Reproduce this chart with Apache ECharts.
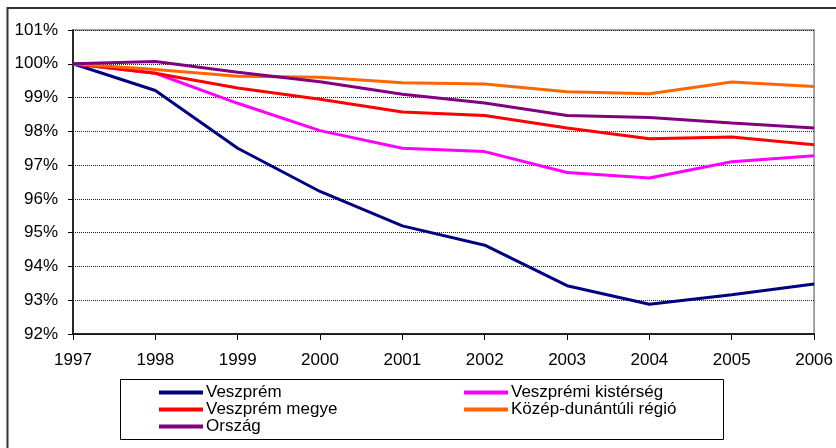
<!DOCTYPE html>
<html>
<head>
<meta charset="utf-8">
<script src="https://cdn.jsdelivr.net/npm/echarts@6/dist/echarts.min.js"></script>
<style>
  html, body { margin: 0; padding: 0; background: #fff; }
  #chart { width: 836px; height: 448px; }
</style>
</head>
<body>
<div id="chart"></div>
<script>
var years = ['1997', '1998', '1999', '2000', '2001', '2002', '2003', '2004', '2005', '2006'];
var seriesNames = ['Veszprém', 'Veszprémi kistérség', 'Veszprém megye', 'Közép-dunántúli régió', 'Ország'];
var seriesColors = ['#000080', '#FF00FF', '#FF0000', '#FF6600', '#800080'];

var veszprem =  [100, 99.21, 97.5, 96.22, 95.2, 94.63, 93.43, 92.88, 93.16, 93.48];
var kisterseg = [100, 99.72, 98.83, 98.02, 97.5, 97.4, 96.78, 96.62, 97.1, 97.28];
var megye =     [100, 99.72, 99.28, 98.95, 98.57, 98.47, 98.1, 97.78, 97.83, 97.6];
var regio =     [100, 99.83, 99.63, 99.6, 99.44, 99.4, 99.17, 99.11, 99.46, 99.33];
var orszag =    [100, 100.07, 99.75, 99.47, 99.1, 98.84, 98.47, 98.41, 98.25, 98.1];

var yMin = 92, yMax = 101, yStep = 1;

(function() {
  var font = '"Liberation Sans", Arial, sans-serif';
  var values = [veszprem, kisterseg, megye, regio, orszag];
  var chart = echarts.init(document.getElementById('chart'), null, { renderer: 'canvas' });

  var series = seriesNames.map(function(name, i) {
    return {
      name: name,
      type: 'line',
      data: values[i],
      symbol: 'none',
      lineStyle: { color: seriesColors[i], width: 3 },
      itemStyle: { color: seriesColors[i] },
      z: 3 + i
    };
  });

  var legendBase = {
    orient: 'vertical',
    top: 384,
    padding: 0,
    itemGap: 0,
    itemWidth: 44,
    itemHeight: 4,
    icon: 'rect',
    selectedMode: false,
    textStyle: { color: '#000', fontSize: 17, fontFamily: font, lineHeight: 17, padding: [0, 0, 0, -2] }
  };

  chart.setOption({
    animation: false,
    textStyle: { fontFamily: font },
    graphic: [
      {
        type: 'rect',
        shape: { x: 7.5, y: 8, width: 900, height: 600 },
        style: { fill: 'none', stroke: '#333', lineWidth: 2 },
        silent: true
      },
      {
        type: 'rect',
        shape: { x: 120.5, y: 379.5, width: 603, height: 60 },
        style: { fill: 'none', stroke: '#000', lineWidth: 1 },
        silent: true
      }
    ],
    legend: [
      Object.assign({}, legendBase, { left: 159, data: [seriesNames[0], seriesNames[2], seriesNames[4]] }),
      Object.assign({}, legendBase, { left: 464, data: [seriesNames[1], seriesNames[3]] })
    ],
    grid: {
      left: 73,
      right: 21,
      top: 30,
      bottom: 114,
      show: true,
      borderColor: '#888',
      borderWidth: 1.5
    },
    xAxis: {
      type: 'category',
      data: years,
      boundaryGap: false,
      axisLine: { lineStyle: { color: '#000', width: 1.5 } },
      axisTick: { show: true, length: 6, lineStyle: { color: '#000' } },
      axisLabel: { color: '#000', fontSize: 17, margin: 18, fontFamily: font },
      splitLine: { show: false }
    },
    yAxis: {
      type: 'value',
      min: yMin,
      max: yMax,
      interval: yStep,
      axisLine: { show: true, lineStyle: { color: '#000', width: 1.5 } },
      axisTick: { show: true, length: 5, lineStyle: { color: '#000' } },
      axisLabel: { color: '#000', fontSize: 17, margin: 15, fontFamily: font, formatter: '{value}%' },
      splitLine: { show: true, lineStyle: { color: '#222', type: [1, 1], width: 1 } }
    },
    series: series
  });
})();
</script>
</body>
</html>
